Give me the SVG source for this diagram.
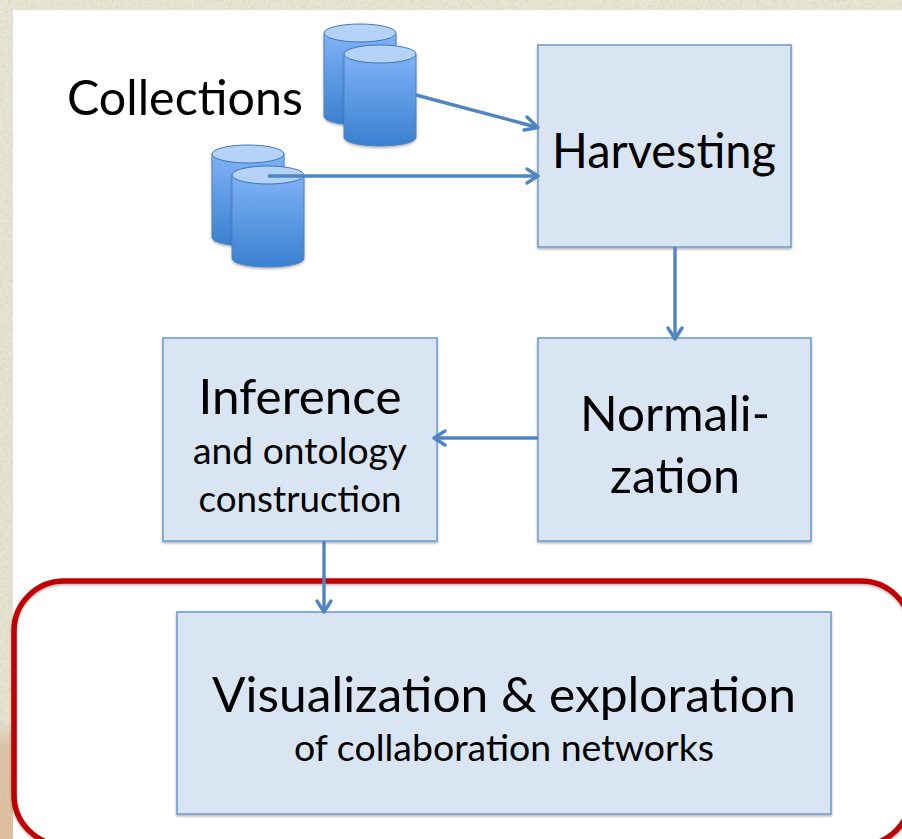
<svg xmlns="http://www.w3.org/2000/svg" width="902" height="839" viewBox="0 0 902 839">
<style>
.box{fill:#dae5f3;stroke:#7ea6d3;stroke-width:1.8;filter:url(#sh)}
.t{font-family:Lato,"Liberation Sans",sans-serif;fill:#000;text-anchor:middle}
.big{font-size:48px}
.small{font-size:36px}
.cb{fill:url(#cyl);stroke:#4a82c0;stroke-width:1}
.ct{fill:#b5d2f8;stroke:#3f78b8;stroke-width:1}
.c{fill:none;stroke:#4f86c2;stroke-width:3.4}
.a{fill:none;stroke:#4f86c2;stroke-width:3.4;stroke-linecap:round;stroke-linejoin:round}
</style>
<defs>
<linearGradient id="cyl" x1="0" y1="0" x2="0" y2="1"><stop offset="0" stop-color="#7fb2f6"/><stop offset="1" stop-color="#3a80d0"/></linearGradient>
<linearGradient id="bg" x1="0" y1="0" x2="0" y2="1"><stop offset="0" stop-color="#e9e7d6"/><stop offset="0.86" stop-color="#e6e3d0"/><stop offset="0.89" stop-color="#dcc3a8"/><stop offset="1" stop-color="#e2bfa0"/></linearGradient>
<filter id="sh" x="-5%" y="-5%" width="110%" height="110%"><feDropShadow dx="0" dy="1.5" stdDeviation="1.2" flood-color="#000" flood-opacity="0.3"/></filter>
<filter id="noise" x="0" y="0" width="100%" height="100%"><feTurbulence type="fractalNoise" baseFrequency="0.35" numOctaves="2" seed="4"/><feColorMatrix values="0 0 0 0 0.45  0 0 0 0 0.43  0 0 0 0 0.3  0.9 0 0 0 -0.3"/></filter>
<symbol id="cylinder" overflow="visible"><path class="cb" d="M0 9V92C0 104 72 104 72 92V9Z" style="filter:url(#sh)"/><ellipse class="ct" cx="36" cy="9" rx="36" ry="9"/></symbol>
</defs>
<rect width="902" height="839" fill="url(#bg)"/>
<rect width="902" height="839" filter="url(#noise)" opacity="0.5"/>
<rect x="13" y="10" width="889" height="829" fill="#fff"/>
<g id="highlight"><rect x="14" y="581" width="897" height="264" rx="50" ry="50" fill="none" stroke="#c00000" stroke-width="5.5" filter="url(#sh)"/></g>
<g id="collections-label"><text class="t big" x="185" y="115" textLength="236" lengthAdjust="spacingAndGlyphs">Collections</text></g>
<g id="collection-a"><use href="#cylinder" x="324" y="24"/><use href="#cylinder" x="344" y="45"/></g>
<g id="collection-b"><use href="#cylinder" x="212" y="145"/><use href="#cylinder" x="232" y="166"/></g>
<g id="harvesting"><rect class="box" x="538" y="45" width="253" height="202"/><text class="t big" x="664" y="168" textLength="224" lengthAdjust="spacingAndGlyphs">Harvesting</text></g>
<g id="normalization"><rect class="box" x="538" y="338" width="273" height="203"/><text class="t big" x="675" y="431" textLength="190" lengthAdjust="spacingAndGlyphs">Normali-</text><text class="t big" x="675" y="493" textLength="130" lengthAdjust="spacingAndGlyphs">zation</text></g>
<g id="inference"><rect class="box" x="163" y="338" width="274" height="203"/><text class="t big" x="300" y="414" textLength="203" lengthAdjust="spacingAndGlyphs">Inference</text><text class="t small" x="300" y="464" textLength="214" lengthAdjust="spacingAndGlyphs">and ontology</text><text class="t small" x="300" y="512" textLength="203" lengthAdjust="spacingAndGlyphs">construction</text></g>
<g id="visualization"><rect class="box" x="177" y="612" width="654" height="202"/><text class="t big" x="504" y="712" textLength="584" lengthAdjust="spacingAndGlyphs">Visualization &amp; exploration</text><text class="t small" x="504" y="761" textLength="420" lengthAdjust="spacingAndGlyphs">of collaboration networks</text></g>
<g id="connectors">
<path class="c" d="M416 95L536 127"/><path class="a" d="M527 117L538 127.500L524 130"/>
<path class="c" d="M268 176H536"/><path class="a" d="M527 169L538 176L527 183"/>
<path class="c" d="M675 247V338"/><path class="a" d="M668 328L675 339L682 328"/>
<path class="c" d="M538 438H435"/><path class="a" d="M445 431L434 438L445 445"/>
<path class="c" d="M324 541V611"/><path class="a" d="M317 601L324 612L331 601"/>
</g>
</svg>
